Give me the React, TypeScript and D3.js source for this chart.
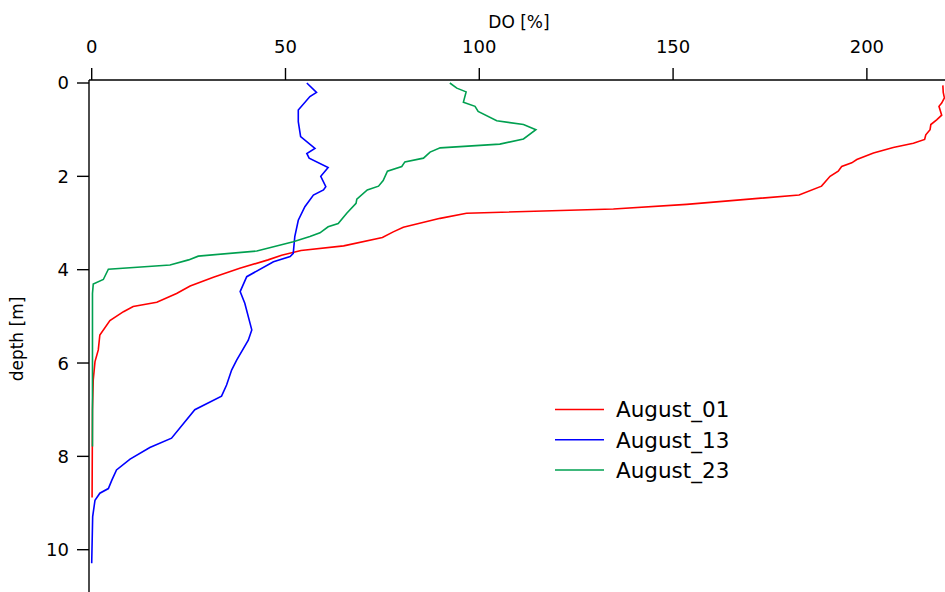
import React from 'react';
import * as d3 from 'd3';

// depth [m], DO [%]
const aug01: [number, number][] = [
  [0.05, 219.6], [0.2, 219.7], [0.32, 220], [0.43, 219.3], [0.5, 218.6], [0.69, 219.3],
  [0.79, 218], [0.89, 216.5], [1.0, 216.3], [1.11, 215.2], [1.21, 214.9], [1.29, 212],
  [1.38, 206.8], [1.5, 201.7], [1.64, 197.4], [1.71, 196.1], [1.79, 193.5], [1.89, 192.6],
  [2.0, 190.5], [2.21, 188.3], [2.4, 182.5], [2.6, 153.5], [2.7, 134.6], [2.79, 96.7],
  [2.9, 89.9], [3.09, 80.4], [3.19, 77.8], [3.31, 75.0], [3.49, 65], [3.59, 54],
  [3.69, 49], [3.79, 45.5], [3.97, 38.2], [4.16, 31.4], [4.35, 25.4], [4.51, 21.9],
  [4.7, 16.8], [4.79, 10.7], [4.9, 8.2], [5.09, 4.7], [5.4, 2.1], [5.72, 1.7],
  [5.97, 0.85], [6.36, 0.4], [7.0, 0.2], [8.88, 0.1],
];

const aug13: [number, number][] = [
  [0.0, 55.5], [0.2, 58], [0.29, 56.3], [0.58, 53.3], [0.83, 53.3], [1.15, 53.9],
  [1.4, 57.6], [1.51, 55.5], [1.61, 56.1], [1.81, 61], [2.0, 59.1], [2.22, 60.4],
  [2.29, 59.8], [2.4, 57.2], [2.65, 55], [2.94, 53.3], [3.29, 52.4], [3.65, 52],
  [3.72, 51.2], [3.83, 46.9], [4.15, 40], [4.47, 38.3], [4.72, 39.5], [5.29, 41.3],
  [5.51, 40.4], [5.94, 37.4], [6.15, 36.1], [6.47, 34.8], [6.71, 33.5], [7.0, 26.6],
  [7.61, 20.6], [7.81, 15], [8.06, 9.9], [8.29, 6.4], [8.51, 5.2], [8.69, 4.3],
  [8.79, 2.1], [8.94, 0.85], [9.29, 0.25], [10.29, 0],
];

const aug23: [number, number][] = [
  [0.0, 92.4], [0.11, 94.2], [0.19, 96.6], [0.41, 95.9], [0.5, 98.9], [0.61, 99.7],
  [0.81, 104.5], [0.89, 111.4], [1.0, 114.6], [1.2, 111.4], [1.31, 105.3], [1.39, 89.9],
  [1.48, 87.3], [1.61, 85.6], [1.69, 80.8], [1.79, 80], [1.89, 76.3], [2.09, 75.2],
  [2.21, 74], [2.29, 71.1], [2.49, 68.4], [2.58, 68.2], [2.79, 65.8], [3.01, 63.6],
  [3.08, 61], [3.21, 58.9], [3.29, 56.3], [3.4, 52], [3.6, 42.6], [3.71, 27.5],
  [3.79, 25], [3.9, 20.2], [3.99, 4.3], [4.21, 3], [4.31, 0.4], [4.51, 0.2], [7.79, 0.2],
];

const seriesNames = ['August_01', 'August_13', 'August_23'];
const seriesColors = ['#ff0000', '#0000ff', '#00a050'];
const seriesData = [aug01, aug13, aug23];
const xTicks = [0, 50, 100, 150, 200];
const yTicks = [0, 2, 4, 6, 8, 10];

const W = 945;
const H = 592;
const font = '"DejaVu Sans", sans-serif';

export default function App() {
  const x = d3.scaleLinear().domain([0, 220]).range([91.7, 944.4]);
  const y = d3.scaleLinear().domain([0, 10]).range([83, 549.7]);
  const axisX = 89;
  const axisY = 80;
  const line = d3.line<[number, number]>().x(d => x(d[1])).y(d => y(d[0]));

  return (
    <svg width={W} height={H} style={{ position: 'absolute', left: 0, top: 0, background: '#fff' }}>
      {/* lines */}
      {seriesData.map((s, i) => (
        <path key={i} d={line(s) || ''} fill="none" stroke={seriesColors[i]} strokeWidth={1.6} />
      ))}

      {/* top axis */}
      <line x1={axisX} x2={W} y1={axisY} y2={axisY} stroke="#000" strokeWidth={1.4} />
      {xTicks.map(t => (
        <g key={t}>
          <line x1={x(t)} x2={x(t)} y1={axisY - 12} y2={axisY} stroke="#000" strokeWidth={1.4} />
          <text x={x(t)} y={53} textAnchor="middle" fontFamily={font} fontSize={18}>{t}</text>
        </g>
      ))}
      <text x={519} y={28} textAnchor="middle" fontFamily={font} fontSize={17}>DO [%]</text>

      {/* left axis */}
      <line x1={axisX} x2={axisX} y1={axisY} y2={H} stroke="#000" strokeWidth={1.4} />
      {yTicks.map(t => (
        <g key={t}>
          <line x1={axisX - 12} x2={axisX} y1={y(t)} y2={y(t)} stroke="#000" strokeWidth={1.4} />
          <text x={69} y={y(t)} dy="0.36em" textAnchor="end" fontFamily={font} fontSize={18}>{t}</text>
        </g>
      ))}
      <text transform="translate(23,339) rotate(-90)" textAnchor="middle" fontFamily={font} fontSize={17}>depth [m]</text>

      {/* legend */}
      {seriesNames.map((n, i) => (
        <g key={n} transform={`translate(555,${409.5 + i * 30.3})`}>
          <line x1={0} x2={49} y1={0} y2={0} stroke={seriesColors[i]} strokeWidth={1.5} />
          <text x={61} y={0} dy="0.36em" fontFamily={font} fontSize={21.5}>{n}</text>
        </g>
      ))}
    </svg>
  );
}
